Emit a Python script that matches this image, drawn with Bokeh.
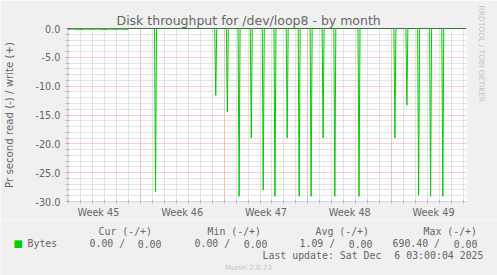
from bokeh.plotting import figure
from bokeh.models import Range1d, FixedTicker, Label, Span, PrintfTickFormatter, Title
from bokeh.layouts import column
from bokeh.embed import file_html
from bokeh.resources import INLINE
from bokeh.core.properties import value

# ---- data (time in days since Mon 3 Nov 2025 00:00) ----
x_start = 0.917
x_end = 34.25
week_labels = ["Week 45", "Week 46", "Week 47", "Week 48", "Week 49"]
week_centers = [3.5, 10.5, 17.5, 24.5, 31.5]
week_bounds = [7, 14, 21, 28]
day_ticks = [1, 2, 3, 4, 5, 6, 7, 8, 9, 10, 11, 12, 13, 14, 15, 16, 17, 18, 19, 20,
             21, 22, 23, 24, 25, 26, 27, 28, 29, 30, 31, 32, 33, 34]
y_major = [-30, -25, -20, -15, -10, -5, 0]
y_minor = [-29, -28, -27, -26, -24, -23, -22, -21, -19, -18, -17, -16, -14, -13, -12,
           -11, -9, -8, -7, -6, -4, -3, -2, -1]

early_days = [0.92, 1.4, 1.9, 2.4, 2.9, 3.4, 3.9, 4.4, 4.9, 5.4, 5.9, 6.05]
early_read = [-0.15, -0.1, -0.2, -0.1, -0.15, -0.1, -0.2, -0.1, -0.15, -0.1, -0.15, 0.0]

spike_days = [8.27, 13.30, 14.27, 15.25, 16.27, 17.27, 18.25, 19.27, 20.27, 21.27,
              22.27, 23.25, 25.27, 28.27, 29.27, 30.25, 31.25, 32.27]
spike_read = [-28.3, -11.6, -14.5, -29.1, -19.0, -28.0, -29.1, -19.0, -29.1, -29.1,
              -19.0, -29.1, -29.1, -19.0, -13.3, -28.9, -29.1, -29.1]
step = 1.0 / 12.0  # 2 hour resolution

hrule = 0.0

title_text = "Disk throughput for /dev/loop8 - by month"
y_title = "Pr second read (-) / write (+)"
legend_heads = ["Cur (-/+)", "Min (-/+)", "Avg (-/+)", "Max (-/+)"]
legend_read = ["0.00 /", "0.00 /", "1.09 /", "690.40 /"]
legend_write = ["0.00", "0.00", "0.00", "0.00"]
update_parts = ["Last update: Sat Dec", "6 03:00:04 2025"]

# ---- build read series ----
xs = list(early_days)
ys = list(early_read)
for d, v in zip(spike_days, spike_read):
    xs += [d - step, d, d + step]
    ys += [0.0, v, 0.0]
xs.append(x_end)
ys.append(0.0)

W = 497
H1, H2 = 220, 55
BL, BR, BT, BB = 67, 30, 28, 17
FONT = "DejaVu Sans"
MONO = "DejaVu Sans Mono"
FC = "#666666"
BG = "#f0f0f0"

p = figure(width=W, height=H1, x_range=Range1d(x_start, x_end), y_range=Range1d(-30, 0),
           output_backend="svg", toolbar_location=None,
           min_border_left=BL, min_border_right=BR, min_border_top=BT, min_border_bottom=BB,
           background_fill_color="#ffffff", border_fill_color=BG,
           outline_line_color=None)
p.frame_align = False

p.title.text = title_text
p.title.align = "left"
p.title.offset = 49
p.title.text_font = FONT
p.title.text_font_size = "12.5px"
p.title.text_font_style = "normal"
p.title.text_color = FC
p.title.standoff = 2

p.add_layout(Title(text="RRDTOOL / TOBI OETIKER", align="left", offset=-23, standoff=20,
                   text_font=FONT, text_font_size="7.5px", text_font_style="normal",
                   text_color="#c4c4c4"), "right")

# grids
p.xgrid.ticker = FixedTicker(ticks=week_bounds, minor_ticks=day_ticks)
p.ygrid.ticker = FixedTicker(ticks=y_major, minor_ticks=y_minor)
for g in (p.xgrid, p.ygrid):
    g.grid_line_color = "#f0a0a0"
    g.grid_line_dash = "1 1"
    g.minor_grid_line_color = "#c8c8c8"
    g.minor_grid_line_dash = "1 1"

# x axis
xa = p.xaxis[0]
xa.ticker = FixedTicker(ticks=week_centers, minor_ticks=day_ticks)
xa.major_label_overrides = {c: l for c, l in zip(week_centers, week_labels)}
xa.major_tick_line_color = None
xa.major_tick_out = 2
xa.major_tick_in = 0
xa.minor_tick_line_color = "#bbbbbb"
xa.minor_tick_out = 2
xa.minor_tick_in = 2
xa.major_label_standoff = 3
xa.axis_line_color = "#CFD6F8"
xa.major_label_text_font = FONT
xa.major_label_text_font_size = "9.7px"
xa.major_label_text_color = FC

# y axis
ya = p.yaxis[0]
ya.ticker = FixedTicker(ticks=y_major, minor_ticks=y_minor)
ya.formatter = PrintfTickFormatter(format="%.1f")
ya.major_tick_line_color = "#e89a9a"
ya.major_tick_out = 2
ya.major_tick_in = 2
ya.minor_tick_line_color = "#bbbbbb"
ya.minor_tick_out = 2
ya.minor_tick_in = 2
ya.major_label_standoff = 5
ya.axis_line_color = "#CFD6F8"
ya.major_label_text_font = FONT
ya.major_label_text_font_size = "9.7px"
ya.major_label_text_color = FC
ya.axis_label = y_title
ya.axis_label_text_font = FONT
ya.axis_label_text_font_size = "10.2px"
ya.axis_label_text_font_style = "normal"
ya.axis_label_text_color = FC
ya.axis_label_standoff = 17

# data
p.line(xs, ys, line_color="#00CC00", line_width=1)
p.add_layout(Span(location=hrule, dimension="width", line_color="#000000", line_width=1))

# ---- legend area (second canvas, its frame covers it fully) ----
q = figure(width=W, height=H2, x_range=Range1d(0, W), y_range=Range1d(0, H2),
           output_backend="svg", toolbar_location=None, x_axis_type=None, y_axis_type=None,
           min_border=0, min_border_left=0, min_border_right=0, min_border_top=0,
           min_border_bottom=0, background_fill_color=BG, border_fill_color=BG,
           outline_line_color=None)
q.frame_align = False
q.xgrid.visible = False
q.ygrid.visible = False

MS = "9.9px"


def lab(x, y, text, font=MONO, size=MS, color=FC, align="left"):
    # x, y in page pixels from the top-left of the whole picture
    q.add_layout(Label(x=x, y=(H1 + H2) - y, x_units="screen", y_units="screen",
                       text=text, text_font=font, text_font_size=size, text_color=color,
                       text_align=align, text_baseline="alphabetic"))


for x, t in zip([98, 207, 315, 423], legend_heads):
    lab(x, 231.4, t)
lab(13, 242.5, "\u25a0", font=FONT, size="10px", color="#00CC00")
lab(27, 243.1, "Bytes")
for x, t in zip([89, 194, 299, 392], legend_read):
    lab(x, 243.1, t)
for x, t in zip([161, 267, 372, 477], legend_write):
    lab(x, 243.1, t, align="right")
lab(262, 254.8, update_parts[0])
lab(483, 254.8, update_parts[1], align="right")
lab(248, 267.3, "Munin 2.0.73", font=FONT, size="7.2px", color="#c4c4c4", align="center")

layout = column(p, q, spacing=0)
open("out.html", "w").write(file_html(layout, INLINE))
